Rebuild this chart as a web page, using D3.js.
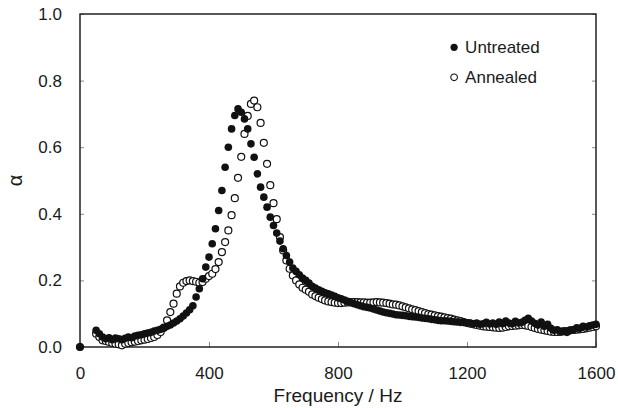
<!DOCTYPE html>
<html>
<head>
<meta charset="utf-8">
<script src="https://cdn.jsdelivr.net/npm/d3@7"></script>
<style>
  body { margin: 0; background: #fff; }
  svg { display: block; font-family: "Liberation Sans", Arial, sans-serif; }
</style>
</head>
<body>
<svg id="chart" width="618" height="408"></svg>
<script>
// frequency grid (Hz), shared by both series
const freq = [0,
  50, 60, 70, 80, 90, 100, 110, 120, 130, 140, 150, 160, 170, 180, 190, 200,
  210, 220, 230, 240, 250, 260, 270, 280, 290, 300, 310, 320, 330, 340, 350,
  360, 370, 380, 390, 400, 410, 420, 430, 440, 450, 460, 470, 480, 490, 500,
  510, 520, 530, 540, 550, 560, 570, 580, 590, 600, 610, 620, 630, 640, 650,
  660, 670, 680, 690, 700, 710, 720, 730, 740, 750, 760, 770, 780, 790, 800,
  810, 820, 830, 840, 850, 860, 870, 880, 890, 900, 910, 920, 930, 940, 950,
  960, 970, 980, 990, 1000, 1010, 1020, 1030, 1040, 1050, 1060, 1070, 1080, 1090, 1100,
  1110, 1120, 1130, 1140, 1150, 1160, 1170, 1180, 1190, 1200, 1210, 1220, 1230, 1240, 1250,
  1260, 1270, 1280, 1290, 1300, 1310, 1320, 1330, 1340, 1350, 1360, 1370, 1380, 1390, 1400,
  1410, 1420, 1430, 1440, 1450, 1460, 1470, 1480, 1490, 1500, 1510, 1520, 1530, 1540, 1550,
  1560, 1570, 1580, 1590, 1600];

const untreated = [0,
  0.050, 0.040, 0.030, 0.025, 0.028, 0.022, 0.027, 0.025, 0.022, 0.026, 0.030, 0.028, 0.033, 0.035, 0.037, 0.040,
  0.042, 0.044, 0.048, 0.050, 0.053, 0.057, 0.062, 0.066, 0.072, 0.078, 0.085, 0.093, 0.102, 0.112, 0.124,
  0.150, 0.175, 0.205, 0.240, 0.270, 0.310, 0.355, 0.410, 0.470, 0.540, 0.600, 0.655, 0.695, 0.715, 0.705,
  0.685, 0.655, 0.610, 0.570, 0.520, 0.480, 0.450, 0.420, 0.390, 0.365, 0.342, 0.318, 0.295, 0.275, 0.255,
  0.237, 0.227, 0.217, 0.207, 0.200, 0.192, 0.182, 0.177, 0.172, 0.167, 0.163, 0.160, 0.156, 0.152, 0.148,
  0.145, 0.141, 0.137, 0.133, 0.130, 0.127, 0.124, 0.121, 0.119, 0.117, 0.114, 0.111, 0.108, 0.105, 0.103,
  0.101, 0.099, 0.097, 0.096, 0.095, 0.094, 0.092, 0.091, 0.090, 0.089, 0.087, 0.086, 0.085, 0.083, 0.082,
  0.080, 0.079, 0.079, 0.078, 0.077, 0.076, 0.075, 0.074, 0.074, 0.073, 0.072, 0.070, 0.072, 0.068, 0.070,
  0.074, 0.069, 0.072, 0.068, 0.075, 0.070, 0.078, 0.072, 0.070, 0.077, 0.072, 0.074, 0.080, 0.086, 0.078,
  0.071, 0.066, 0.075, 0.062, 0.068, 0.056, 0.050, 0.052, 0.045, 0.048, 0.044, 0.050, 0.052, 0.058, 0.056,
  0.062, 0.060, 0.064, 0.066, 0.068];

const annealed = [0,
  0.040, 0.030, 0.020, 0.018, 0.015, 0.012, 0.010, 0.008, 0.005, 0.010, 0.012, 0.014, 0.016, 0.018, 0.020, 0.022,
  0.024, 0.027, 0.030, 0.036, 0.045, 0.058, 0.080, 0.105, 0.130, 0.160, 0.182, 0.193, 0.198, 0.200, 0.198,
  0.196, 0.193, 0.195, 0.205, 0.213, 0.220, 0.234, 0.255, 0.285, 0.315, 0.350, 0.396, 0.447, 0.508, 0.571,
  0.640, 0.694, 0.730, 0.740, 0.720, 0.673, 0.613, 0.550, 0.486, 0.432, 0.384, 0.330, 0.290, 0.260, 0.235,
  0.215, 0.200, 0.188, 0.178, 0.172, 0.166, 0.158, 0.153, 0.148, 0.144, 0.140, 0.137, 0.135, 0.133, 0.132,
  0.132, 0.133, 0.134, 0.135, 0.135, 0.135, 0.134, 0.134, 0.133, 0.133, 0.134, 0.135, 0.134, 0.133, 0.132,
  0.130, 0.128, 0.127, 0.125, 0.122, 0.119, 0.116, 0.113, 0.111, 0.108, 0.105, 0.102, 0.099, 0.097, 0.095,
  0.093, 0.091, 0.089, 0.087, 0.085, 0.082, 0.080, 0.078, 0.075, 0.072, 0.070, 0.068, 0.066, 0.064, 0.062,
  0.061, 0.060, 0.059, 0.058, 0.057, 0.058, 0.060, 0.062, 0.063, 0.064, 0.065, 0.066, 0.065, 0.063, 0.060,
  0.057, 0.054, 0.052, 0.050, 0.048, 0.046, 0.045, 0.045, 0.046, 0.047, 0.048, 0.050, 0.051, 0.052, 0.053,
  0.054, 0.056, 0.058, 0.060, 0.062];

const xTicks = [0, 400, 800, 1200, 1600];
const yTicks = [0, 0.2, 0.4, 0.6, 0.8, 1.0];
const legendLabels = ["Untreated", "Annealed"];

const svg = d3.select("#chart");
const margin = { top: 14, right: 22, bottom: 61, left: 80 };
const width = 618 - margin.left - margin.right;
const height = 408 - margin.top - margin.bottom;

const x = d3.scaleLinear().domain([0, 1600]).range([0, width]);
const y = d3.scaleLinear().domain([0, 1]).range([height, 0]);

const g = svg.append("g").attr("transform", `translate(${margin.left},${margin.top})`);

// axes with short inward ticks
const xAxis = g.append("g")
    .attr("transform", `translate(0,${height})`)
    .call(d3.axisBottom(x).tickValues(xTicks).tickSize(-5).tickPadding(20).tickFormat(d3.format("d")));
const yAxis = g.append("g")
    .call(d3.axisLeft(y).tickValues(yTicks).tickSize(-4).tickPadding(18).tickFormat(d3.format(".1f")));
g.append("g")
    .attr("transform", `translate(${width},0)`)
    .call(d3.axisRight(y).tickValues(yTicks).tickSize(-4).tickFormat(""));

[xAxis, yAxis].forEach(a => {
    a.selectAll("text").attr("font-size", 17).attr("fill", "#1a1a1a").attr("font-family", "Liberation Sans, Arial, sans-serif");
});
g.selectAll(".domain").remove();
g.selectAll(".tick line").attr("stroke", "#888").attr("stroke-width", 1);

// frame
g.append("rect")
    .attr("width", width).attr("height", height)
    .attr("fill", "none").attr("stroke", "#222").attr("stroke-width", 1.5);

const pts = freq.map((f, i) => ({ f: f, u: untreated[i], a: annealed[i] }));

// annealed (open circles), drawn below
g.append("g").selectAll("circle")
    .data(pts)
    .enter().append("circle")
    .attr("cx", d => x(d.f))
    .attr("cy", d => y(d.a))
    .attr("r", 3.5)
    .attr("fill", "white")
    .attr("stroke", "#111")
    .attr("stroke-width", 1.2);

// untreated (filled circles)
g.append("g").selectAll("circle")
    .data(pts)
    .enter().append("circle")
    .attr("cx", d => x(d.f))
    .attr("cy", d => y(d.u))
    .attr("r", 3.8)
    .attr("fill", "#111");

// legend
const legend = g.append("g").attr("transform", `translate(${x(1160)},${y(0.9)})`);
legendLabels.forEach((name, i) => {
    const row = legend.append("g").attr("transform", `translate(0,${i * 30})`);
    row.append("circle")
        .attr("r", i === 0 ? 3.6 : 3.3)
        .attr("fill", i === 0 ? "#111" : "white")
        .attr("stroke", "#111")
        .attr("stroke-width", i === 0 ? 0 : 1.1);
    row.append("text")
        .attr("x", 11)
        .attr("dy", "0.35em")
        .attr("font-size", 17)
        .attr("fill", "#1a1a1a")
        .text(name);
});

// axis titles
svg.append("text")
    .attr("x", margin.left + width / 2)
    .attr("y", 402)
    .attr("text-anchor", "middle")
    .attr("font-size", 19)
    .attr("fill", "#1a1a1a")
    .text("Frequency / Hz");

svg.append("text")
    .attr("transform", `translate(22,${margin.top + height / 2}) rotate(-90)`)
    .attr("text-anchor", "middle")
    .attr("font-size", 20)
    .attr("fill", "#1a1a1a")
    .text("α");
</script>
</body>
</html>
